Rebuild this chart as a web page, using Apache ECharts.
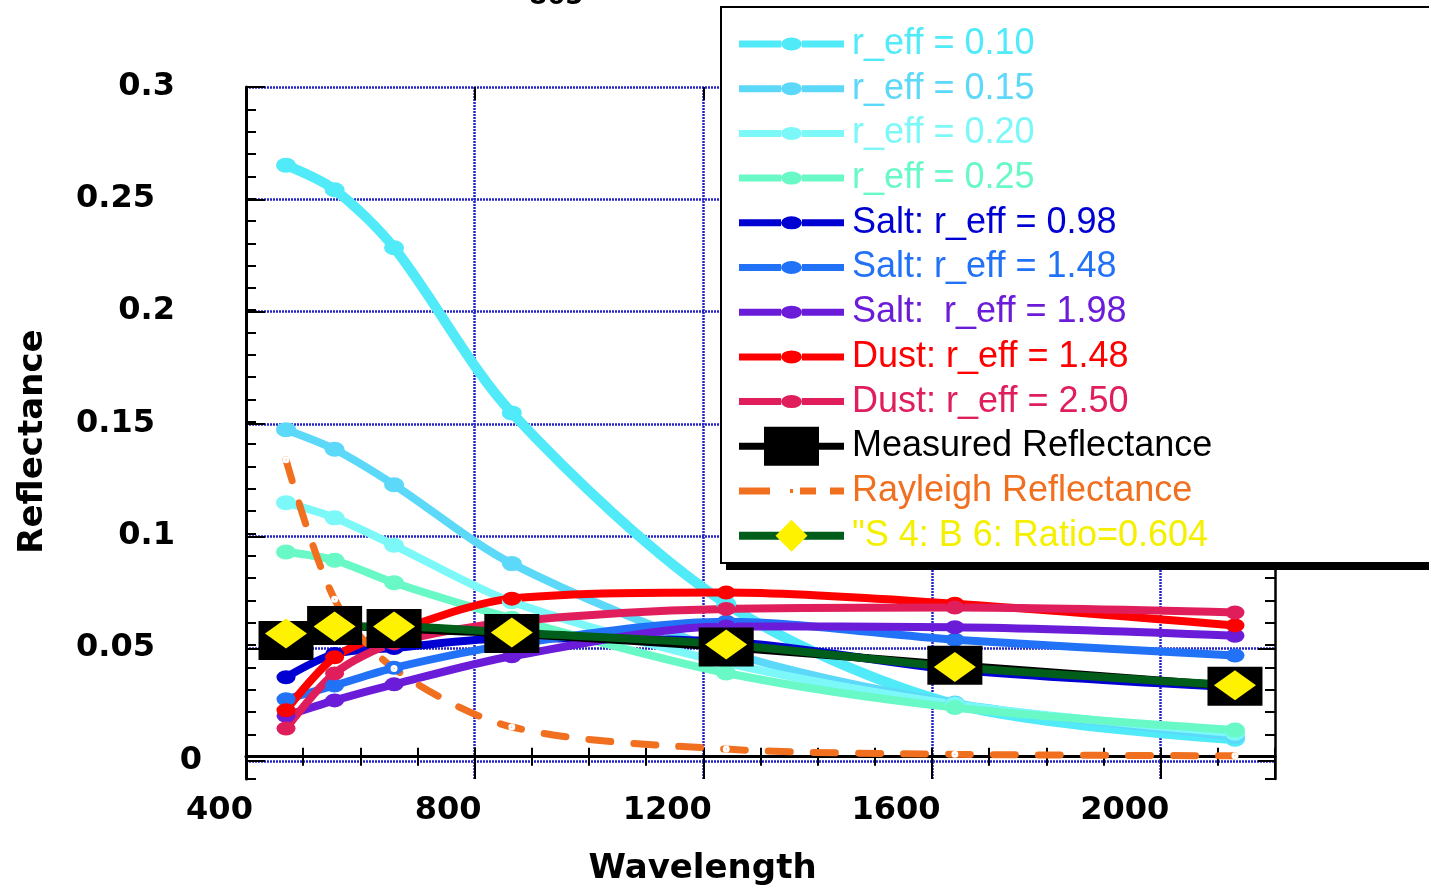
<!DOCTYPE html>
<html>
<head>
<meta charset="utf-8">
<title>Reflectance vs Wavelength</title>
<script src="https://cdn.jsdelivr.net/npm/echarts@6/dist/echarts.min.js"></script>
<style>
  html, body { margin: 0; padding: 0; background: #fff; }
  #chart { width: 1429px; height: 891px; }
</style>
</head>
<body>
<div id="chart"></div>
<script>
// Band centre wavelengths (nm)
const wavelengths = [470, 555, 659, 865, 1240, 1640, 2130];

// Modelled reflectance for fine-mode aerosol sizes
const reff010 = [0.2650, 0.2540, 0.2280, 0.1540, 0.0685, 0.0235, 0.0078];
const reff015 = [0.1465, 0.1377, 0.1218, 0.0865, 0.0470, 0.0240, 0.0090];
const reff020 = [0.1138, 0.1070, 0.0947, 0.0694, 0.0420, 0.0235, 0.0105];
const reff025 = [0.0917, 0.0880, 0.0779, 0.0620, 0.0375, 0.0220, 0.0119];
// Sea salt models
const salt098 = [0.0356, 0.0460, 0.0487, 0.0530, 0.0515, 0.0390, 0.0310];
const salt148 = [0.0257, 0.0319, 0.0398, 0.0503, 0.0605, 0.0524, 0.0453];
const salt198 = [0.0183, 0.0252, 0.0324, 0.0450, 0.0583, 0.0580, 0.0542];
// Dust models
const dust148 = [0.0208, 0.0445, 0.0560, 0.0708, 0.0735, 0.0685, 0.0588];
const dust250 = [0.0126, 0.0373, 0.0508, 0.0605, 0.0662, 0.0668, 0.0646];
// Observations and references
const measured = [0.0521, 0.0588, 0.0574, 0.0552, 0.0491, 0.0410, 0.0316];
const rayleigh = [0.1330, 0.0705, 0.0395, 0.0133, 0.0034, 0.0011, 0.0004];
const ratioFit = [0.0552, 0.0583, 0.0583, 0.0556, 0.0503, 0.0402, 0.0320];

// Tick labels
const xTickLabels = [400, 800, 1200, 1600, 2000];
const yTickLabels = ['0', '0.05', '0.1', '0.15', '0.2', '0.25', '0.3'];

const C = {
  r010: '#50EAF9', r015: '#5CD8F9', r020: '#7CF8F9', r025: '#68F9C6',
  s098: '#0000D2', s148: '#2272F8', s198: '#6A1CD8',
  d148: '#FF0000', d250: '#E01E5C',
  meas: '#000000', ray: '#F07020', green: '#005E1A', yellow: '#FFF200', yText: '#F4F000'
};

const pair = arr => wavelengths.map((w, i) => [w, arr[i]]);

function circleLine(name, arr, color, width, size) {
  return {
    name, type: 'line', data: pair(arr), smooth: 0.3,
    symbol: 'circle', symbolSize: size,
    lineStyle: { color, width }, itemStyle: { color, borderWidth: 0 }
  };
}

const circleIcon = 'path://M0,3 h42 v7 h-42 Z M63,3 h42 v7 h-42 Z M42,6.5 A10.5,6.5 0 1,1 63,6.5 A10.5,6.5 0 1,1 42,6.5 Z';
const rectIcon = 'path://M0,16 h25 v7 h-25 Z M25,0 h55 v39 h-55 Z M80,16 h25 v7 h-25 Z';
const dashIcon = 'path://M0,0 h31 v7 h-31 Z M51,1.5 h3 v4 h-3 Z M61,0 h16 v7 h-16 Z M91,0 h14 v7 h-14 Z';

function legendItem(name, color, icon, textColor) {
  const item = { name, textStyle: { color: textColor || color } };
  if (icon) {
    item.icon = icon;
    item.itemStyle = { color, borderWidth: 0 };
  }
  return item;
}

const boldFont = { fontFamily: 'DejaVu Sans', fontWeight: 'bold', fontSize: 32, color: '#000' };
const gridLine = { show: true, lineStyle: { color: '#2424C8', width: 2.5, type: [2, 1] } };

// Legend frame: white box with a solid drop shadow
const legendBox = { x: 721, y: 7, width: 740, height: 556 };

const option = {
  animation: false,
  backgroundColor: '#fff',
  title: {
    text: '865', left: 529, top: -16, padding: 0,
    textStyle: { fontFamily: 'DejaVu Sans', fontWeight: 'bold', fontSize: 26, color: '#000' }
  },
  graphic: [
    { type: 'rect', z: 3, silent: true,
      shape: { x: legendBox.x + 5, y: legendBox.y + 7, width: legendBox.width, height: legendBox.height },
      style: { fill: '#000' } },
    { type: 'rect', z: 3, silent: true,
      shape: legendBox,
      style: { fill: '#fff', stroke: '#000', lineWidth: 2 } }
  ],
  legend: {
    z: 5,
    orient: 'vertical', left: 721, top: 7,
    padding: [17, 240, 14, 14],
    itemWidth: 105, itemHeight: 40, itemGap: 4.7,
    selectedMode: false,
    backgroundColor: 'transparent', borderWidth: 0,
    textStyle: { fontFamily: 'Liberation Sans, Arial, sans-serif', fontSize: 36, lineHeight: 40, padding: [0, 0, 0, 3] },
    data: [
      legendItem('r_eff = 0.10', C.r010, circleIcon),
      legendItem('r_eff = 0.15', C.r015, circleIcon),
      legendItem('r_eff = 0.20', C.r020, circleIcon),
      legendItem('r_eff = 0.25', C.r025, circleIcon),
      legendItem('Salt: r_eff = 0.98', C.s098, circleIcon),
      legendItem('Salt: r_eff = 1.48', C.s148, circleIcon),
      legendItem('Salt:  r_eff = 1.98', C.s198, circleIcon),
      legendItem('Dust: r_eff = 1.48', C.d148, circleIcon),
      legendItem('Dust: r_eff = 2.50', C.d250, circleIcon),
      legendItem('Measured Reflectance', C.meas, rectIcon),
      legendItem('Rayleigh Reflectance', C.ray, dashIcon),
      { name: '"S 4: B 6: Ratio=0.604', textStyle: { color: C.yText }, lineStyle: { width: 8, color: C.green } }
    ]
  },
  grid: [
    { left: 246, right: 154, top: 87, bottom: 108 },
    { left: 246, right: 154, top: 87, bottom: 130 }
  ],
  xAxis: [
    { // data axis, minor ticks every 100 nm
      gridIndex: 0, type: 'value', position: 'bottom', min: 400, max: 2200, interval: 100,
      axisLine: { lineStyle: { color: '#000', width: 3 } },
      axisTick: { inside: true, length: 9, lineStyle: { color: '#000', width: 2 } },
      axisLabel: { show: false }, splitLine: { show: false }
    },
    { // top frame
      gridIndex: 0, type: 'value', position: 'top', min: 400, max: 2200, interval: 100,
      axisLine: { lineStyle: { color: '#000', width: 2.5 } },
      axisTick: { inside: true, length: 9, lineStyle: { color: '#000', width: 2 } },
      axisLabel: { show: false }, splitLine: { show: false }
    },
    { // major ticks, labels, grid lines
      gridIndex: 0, type: 'value', position: 'bottom', min: 400, max: 2200, interval: 400,
      axisLine: { show: false },
      axisTick: { inside: true, length: 15, lineStyle: { color: '#000', width: 2 } },
      splitLine: Object.assign({ showMaxLine: false }, gridLine),
      axisLabel: {
        margin: 14,
        formatter: v => xTickLabels.indexOf(v) < 0 ? '' : (String(v).length === 3 ? '{s|' + v + '}' : '{l|' + v + '}'),
        rich: {
          s: Object.assign({ padding: [0, 53, 0, 0], lineHeight: 36 }, boldFont),
          l: Object.assign({ padding: [0, 72, 0, 0], lineHeight: 36 }, boldFont)
        }
      },
      name: 'Wavelength', nameLocation: 'middle', nameGap: 73,
      nameTextStyle: { fontFamily: 'DejaVu Sans', fontWeight: 'bold', fontSize: 34, color: '#000', padding: [0, 116, 0, 0] }
    },
    {
      gridIndex: 0, type: 'value', position: 'top', min: 400, max: 2200, interval: 400,
      axisLine: { show: false },
      axisTick: { inside: true, length: 13, lineStyle: { color: '#000', width: 2 } },
      axisLabel: { show: false }, splitLine: { show: false }
    },
    { gridIndex: 1, type: 'value', min: 400, max: 2200, show: false }
  ],
  yAxis: [
    { // data axis, minor ticks every 0.01
      gridIndex: 0, type: 'value', position: 'left', min: -0.01, max: 0.3, interval: 0.01,
      axisLine: { lineStyle: { color: '#000', width: 3 } },
      axisTick: { inside: true, length: 10, lineStyle: { color: '#000', width: 2 } },
      axisLabel: { show: false }, splitLine: { show: false },
      name: 'Reflectance', nameLocation: 'middle', nameGap: 196,
      nameTextStyle: { fontFamily: 'DejaVu Sans', fontWeight: 'bold', fontSize: 34, color: '#000', padding: [0, 17, 0, 0] }
    },
    { // right frame
      gridIndex: 0, type: 'value', position: 'right', min: -0.01, max: 0.3, interval: 0.01,
      axisLine: { lineStyle: { color: '#000', width: 2.5 } },
      axisTick: { inside: true, length: 10, lineStyle: { color: '#000', width: 2 } },
      axisLabel: { show: false }, splitLine: { show: false }
    },
    { // major ticks, labels, grid lines
      gridIndex: 1, type: 'value', position: 'left', min: 0, max: 0.3, interval: 0.05,
      axisLine: { show: false },
      axisTick: { inside: true, length: 19, lineStyle: { color: '#000', width: 2 } },
      splitLine: gridLine,
      axisLabel: {
        margin: 40, align: 'right',
        formatter: v => {
          const t = yTickLabels[Math.round(v / 0.05)];
          if (t === undefined) return '';
          const key = t === '0' ? 'a' : (t.length === 3 ? 'b' : 'c');
          return '{' + key + '|' + t + '}';
        },
        rich: {
          a: Object.assign({ padding: [0, 4, 1, 0] }, boldFont),
          b: Object.assign({ padding: [0, 31, 1, 0] }, boldFont),
          c: Object.assign({ padding: [0, 51, 1, 0] }, boldFont)
        }
      }
    },
    {
      gridIndex: 1, type: 'value', position: 'right', min: 0, max: 0.3, interval: 0.05,
      axisLine: { show: false },
      axisTick: { inside: true, length: 17, lineStyle: { color: '#000', width: 2 } },
      axisLabel: { show: false }, splitLine: { show: false }
    }
  ],
  series: [
    circleLine('r_eff = 0.10', reff010, C.r010, 10, [20, 15]),
    circleLine('r_eff = 0.15', reff015, C.r015, 8, [20, 15]),
    circleLine('r_eff = 0.20', reff020, C.r020, 8, [20, 15]),
    circleLine('r_eff = 0.25', reff025, C.r025, 8, [20, 15]),
    circleLine('Salt: r_eff = 0.98', salt098, C.s098, 8, [19, 14]),
    circleLine('Salt: r_eff = 1.48', salt148, C.s148, 8, [19, 14]),
    circleLine('Salt:  r_eff = 1.98', salt198, C.s198, 8, [19, 14]),
    circleLine('Dust: r_eff = 1.48', dust148, C.d148, 8, [19, 14]),
    circleLine('Dust: r_eff = 2.50', dust250, C.d250, 8, [19, 14]),
    {
      name: 'Measured Reflectance', type: 'line', data: pair(measured), smooth: 0.3,
      symbol: 'rect', symbolSize: [55, 39],
      lineStyle: { color: C.meas, width: 8 }, itemStyle: { color: C.meas, borderWidth: 0 }
    },
    {
      name: 'Rayleigh Reflectance', type: 'line', data: pair(rayleigh), smooth: 0.3,
      symbol: 'circle', symbolSize: 4,
      lineStyle: { color: C.ray, width: 7, type: [22, 23], cap: 'round' },
      itemStyle: { color: C.ray, borderColor: '#fff', borderWidth: 3 }
    },
    {
      name: '"S 4: B 6: Ratio=0.604', type: 'line', data: pair(ratioFit), smooth: 0.3,
      symbol: 'diamond', symbolSize: [42, 30],
      lineStyle: { color: C.green, width: 8 }, itemStyle: { color: C.yellow, borderWidth: 0 }
    }
  ]
};

const chart = echarts.init(document.getElementById('chart'), null, { renderer: 'canvas' });
chart.setOption(option);
</script>
</body>
</html>
